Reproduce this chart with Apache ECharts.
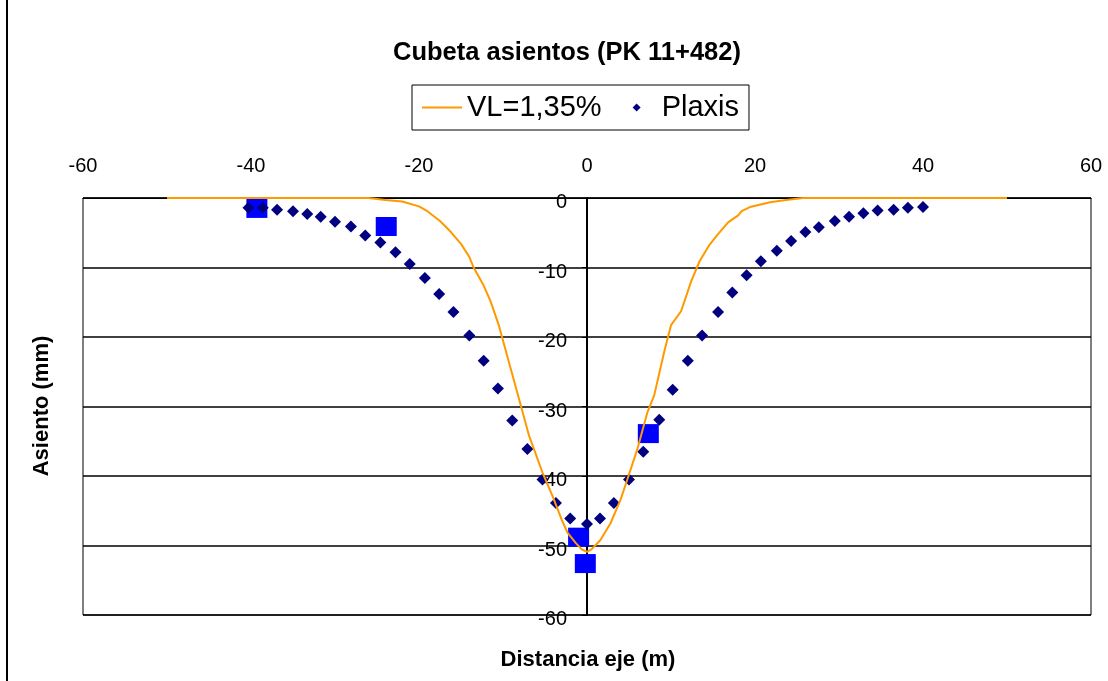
<!DOCTYPE html>
<html>
<head>
<meta charset="utf-8">
<script src="https://cdn.jsdelivr.net/npm/echarts@6/dist/echarts.min.js"></script>
<style>
  html, body { margin: 0; padding: 0; background: #fff; }
  #chart { width: 1108px; height: 681px; }
</style>
</head>
<body>
<div id="chart"></div>
<script>
// curva teorica VL=1,35%
var vlX = [-50, -26, -24, -22, -20, -19, -17.5, -16.2, -15, -14, -13.5, -12.3, -11.5, -10.5, -9.3, -8.1, -6.9, -5.3, -4.1, -3, -2.3, -1.3, -0.6, 0,
           0.5, 1.6, 2.8, 4, 4.8, 6, 7.2, 8, 9.2, 10, 11.2, 12.4, 13.4, 14.6, 15.6, 16.8, 18, 18.4, 19.4, 21.8, 23.7, 25.7, 50];
var vlY = [0, 0, -0.3, -0.5, -1.2, -1.9, -3.3, -4.9, -6.6, -8.5, -10, -12.6, -14.8, -18.3, -23.6, -28.9, -34.2, -39.5, -42.9, -46.3, -48.2, -49.7, -50.6, -50.9,
           -50.6, -49.2, -46.8, -43.4, -40.5, -36.1, -30.8, -28.4, -22.1, -18.3, -16.3, -12.0, -9.1, -6.7, -5.2, -3.5, -2.5, -1.9, -1.3, -0.6, -0.3, 0, 0];

// resultados Plaxis
var plaxisX = [-40.3, -38.6, -36.9, -35.0, -33.3, -31.7, -30.0, -28.1, -26.4, -24.6, -22.8, -21.1, -19.3, -17.6, -15.9, -14.0, -12.3, -10.6, -8.9, -7.1, -5.3, -3.7, -2.0, 0,
               1.55, 3.2, 5.0, 6.7, 8.6, 10.2, 12.0, 13.7, 15.6, 17.3, 19.0, 20.7, 22.6, 24.3, 26.0, 27.6, 29.5, 31.2, 32.9, 34.6, 36.5, 38.2, 40.0];
var plaxisY = [-1.4, -1.4, -1.7, -1.9, -2.3, -2.7, -3.4, -4.1, -5.4, -6.4, -7.8, -9.5, -11.5, -13.8, -16.4, -19.8, -23.4, -27.4, -32.0, -36.1, -40.5, -43.9, -46.1, -46.9,
               -46.1, -43.9, -40.5, -36.5, -31.9, -27.6, -23.4, -19.8, -16.4, -13.6, -11.1, -9.1, -7.6, -6.2, -4.9, -4.2, -3.3, -2.7, -2.2, -1.8, -1.7, -1.4, -1.3];

// medidas
var medX = [-39.3, -23.9, -1.0, -0.2, 7.3];
var medY = [-1.5, -4.1, -48.8, -52.6, -33.9];

function pairs(xs, ys) {
    var out = [];
    for (var i = 0; i < xs.length; i++) {
        out.push([xs[i], ys[i]]);
    }
    return out;
}

var font = 'Liberation Sans, Arial, sans-serif';

// grid: 83 .. 1091 px -> x=0 queda a 504 px del borde izquierdo
var gridLeft = 83, gridRight = 17;
var yOffset = -(1108 - gridLeft - gridRight) / 2;

var option = {
    backgroundColor: '#fff',
    animation: false,
    textStyle: { fontFamily: font },
    title: {
        text: 'Cubeta asientos (PK 11+482)',
        left: 388,
        top: 35,
        textStyle: { fontFamily: font, fontWeight: 'bold', fontSize: 25.5, color: '#000' }
    },
    legend: {
        data: [
            { name: 'VL=1,35%', icon: 'path://M0,0L0,0M0,4L40,4L40,6L0,6ZM0,10L0,10' },
            { name: 'Plaxis', icon: 'path://M0,5L0,5M20,1L24,5L20,9L16,5ZM40,5L40,5' }
        ],
        left: 412,
        top: 85,
        padding: [8, 10, 8, 10],
        itemGap: 15,
        itemWidth: 40,
        itemHeight: 10,
        borderColor: '#000',
        borderWidth: 1,
        textStyle: { fontFamily: font, fontSize: 29, color: '#000' }
    },
    grid: {
        left: gridLeft,
        right: gridRight,
        top: 198,
        bottom: 66,
        show: true,
        borderColor: '#000',
        borderWidth: 1
    },
    xAxis: {
        type: 'value',
        position: 'top',
        min: -60,
        max: 60,
        interval: 20,
        axisLine: { onZero: false, lineStyle: { color: '#000', width: 1 } },
        axisTick: { show: false },
        splitLine: { show: false },
        axisLabel: { color: '#000', fontSize: 20, margin: 22, fontFamily: font }
    },
    yAxis: {
        type: 'value',
        position: 'left',
        offset: yOffset,
        min: -60,
        max: 0,
        interval: 10,
        axisLine: { onZero: false, lineStyle: { color: '#000', width: 2 } },
        axisTick: { show: true, length: 5, lineStyle: { color: '#000' } },
        splitLine: { show: true, lineStyle: { color: '#000', width: 1.5 } },
        axisLabel: { color: '#000', fontSize: 20, margin: 20, verticalAlign: 'top', lineHeight: 9, fontFamily: font }
    },
    graphic: [
        {
            type: 'text',
            x: 588,
            y: 660,
            style: { text: 'Distancia eje (m)', fontFamily: font, fontWeight: 'bold', fontSize: 22, fill: '#000', align: 'center', verticalAlign: 'middle' }
        },
        {
            type: 'text',
            x: 42,
            y: 406,
            rotation: Math.PI / 2,
            style: { text: 'Asiento (mm)', fontFamily: font, fontWeight: 'bold', fontSize: 22, fill: '#000', align: 'center', verticalAlign: 'middle' }
        },
        {
            type: 'line',
            shape: { x1: 7, y1: 0, x2: 7, y2: 681 },
            style: { stroke: '#000', lineWidth: 2 }
        }
    ],
    series: [
        {
            name: 'VL=1,35%',
            type: 'line',
            data: pairs(vlX, vlY),
            showSymbol: false,
            symbol: 'none',
            lineStyle: { color: '#FF9900', width: 2 },
            itemStyle: { color: '#FF9900' }
        },
        {
            name: 'Medidas',
            type: 'scatter',
            data: pairs(medX, medY),
            symbol: 'rect',
            symbolSize: [21, 19],
            itemStyle: { color: '#0000FF', opacity: 1 }
        },
        {
            name: 'Plaxis',
            type: 'scatter',
            data: pairs(plaxisX, plaxisY),
            symbol: 'diamond',
            symbolSize: 12,
            itemStyle: { color: '#000080', opacity: 1 }
        }
    ]
};

echarts.init(document.getElementById('chart')).setOption(option);
</script>
</body>
</html>
